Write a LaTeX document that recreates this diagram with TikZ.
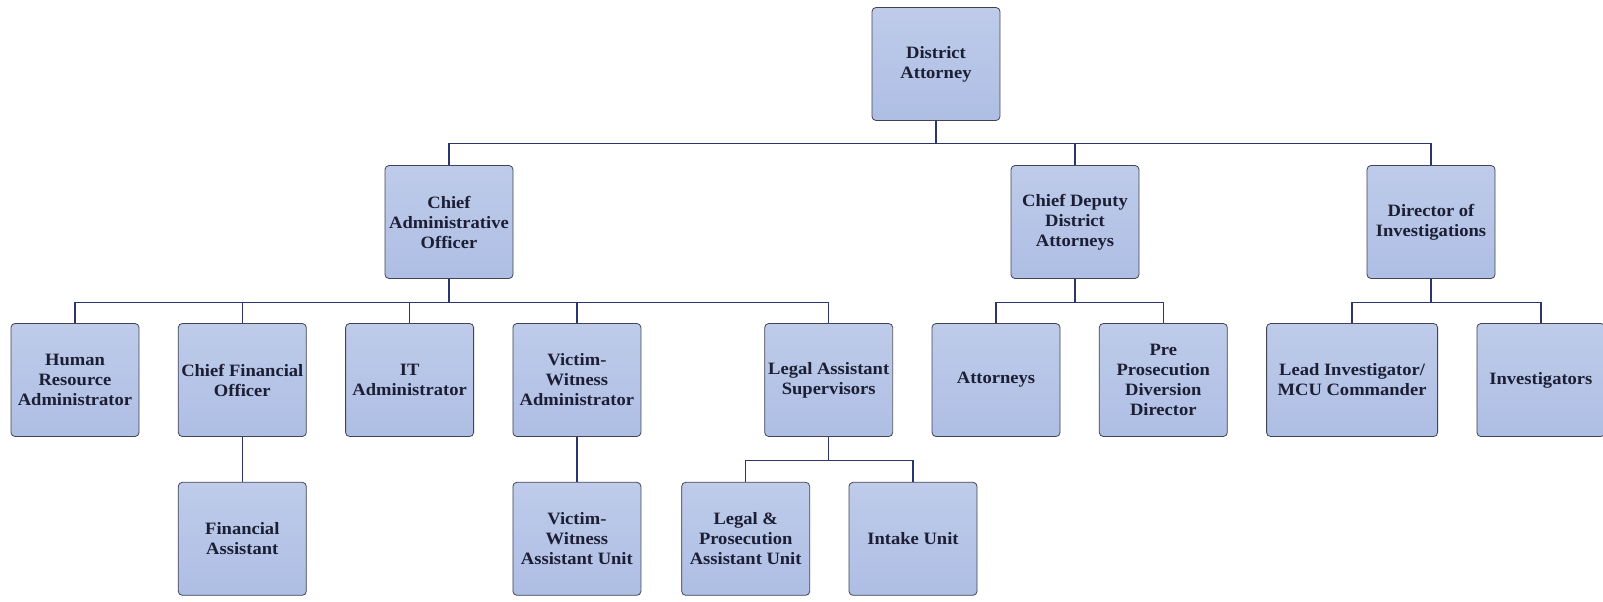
\documentclass[tikz,border=0pt]{standalone}
\usepackage{fontspec}
\setmainfont[FakeStretch=1.07]{Liberation Serif}
\usetikzlibrary{positioning, calc}

\definecolor{boxfill}{RGB}{174,190,228}
\definecolor{boxedge}{RGB}{66,68,84}
\definecolor{linkblue}{RGB}{44,54,108}
\definecolor{txtdark}{RGB}{28,30,52}

\begin{document}
\begin{tikzpicture}[
  x=0.75pt, y=-0.75pt,
  box/.style={draw=boxedge, line width=0.6pt, rounded corners=3pt,
              top color=boxfill!80!white, bottom color=boxfill,
              minimum width=96pt, minimum height=84.75pt, inner sep=2pt,
              align=center, text=txtdark,
              font=\bfseries\fontsize{13}{15}\selectfont},
  wide/.style={box, minimum width=128.25pt},
  link/.style={draw=linkblue, line width=1.1pt},
  node distance=33.75pt and 28.875pt
]
  \useasboundingbox[fill=white] (0,0) rectangle (1603,601);

  % top levels
  \node[box] (da)   at (936,64)   {District\\Attorney};
  \node[box] (cao)  at (449,222)  {Chief\\Administrative\\Officer};
  \node[box] (cdda) at (1075,222) {Chief Deputy\\District\\Attorneys};
  \node[box] (doi)  at (1431,222) {Director of\\Investigations};

  % third row
  \node[box] (hr) at (75,380) {Human\\Resource\\Administrator};
  \node[box, right=of hr]     (cfo)  {Chief Financial\\Officer};
  \node[box, right=of cfo]    (it)   {IT\\Administrator};
  \node[box, right=of it]     (vwa)  {Victim-\\Witness\\Administrator};
  \node[box, right=92.25pt of vwa] (las) {Legal Assistant\\Supervisors};
  \node[box, right=of las]    (att)  {Attorneys};
  \node[box, right=of att]    (pre)  {Pre\\Prosecution\\Diversion\\Director};
  \node[wide, right=of pre]   (lead) {Lead Investigator/\\MCU Commander};
  \node[box, right=of lead]   (inv)  {Investigators};

  % bottom row
  \node[box, below=of cfo] (fa)   {Financial\\Assistant};
  \node[box, below=of vwa] (vwau) {Victim-\\Witness\\Assistant Unit};
  \node[box, below=of las, xshift=-62.25pt] (lpa) {Legal \&\\Prosecution\\Assistant Unit};
  \node[box, right=of lpa] (intake) {Intake Unit};

  % connectors
  \draw[link] (da.south) -- ++(0,22.5) coordinate (topbus);
  \draw[link] (cao.north) |- (topbus) -| (doi.north);
  \draw[link] (cdda.north) -- (cdda.north |- topbus);

  \draw[link] (cao.south) -- ++(0,23.5) coordinate (caobus);
  \draw[link] (hr.north) |- (caobus) -| (las.north);
  \foreach \n in {cfo,it,vwa}
    \draw[link] (\n.north) -- (\n.north |- caobus);

  \draw[link] (cdda.south) -- ++(0,23.5) coordinate (cddabus);
  \draw[link] (att.north) |- (cddabus) -| (pre.north);

  \draw[link] (doi.south) -- ++(0,23.5) coordinate (doibus);
  \draw[link] (lead.north) |- (doibus) -| (inv.north);

  \draw[link] (cfo.south) -- (fa.north);
  \draw[link] (vwa.south) -- (vwau.north);

  \draw[link] (las.south) -- ++(0,23.5) coordinate (lasbus);
  \draw[link] (lpa.north) |- (lasbus) -| (intake.north);
\end{tikzpicture}
\end{document}
